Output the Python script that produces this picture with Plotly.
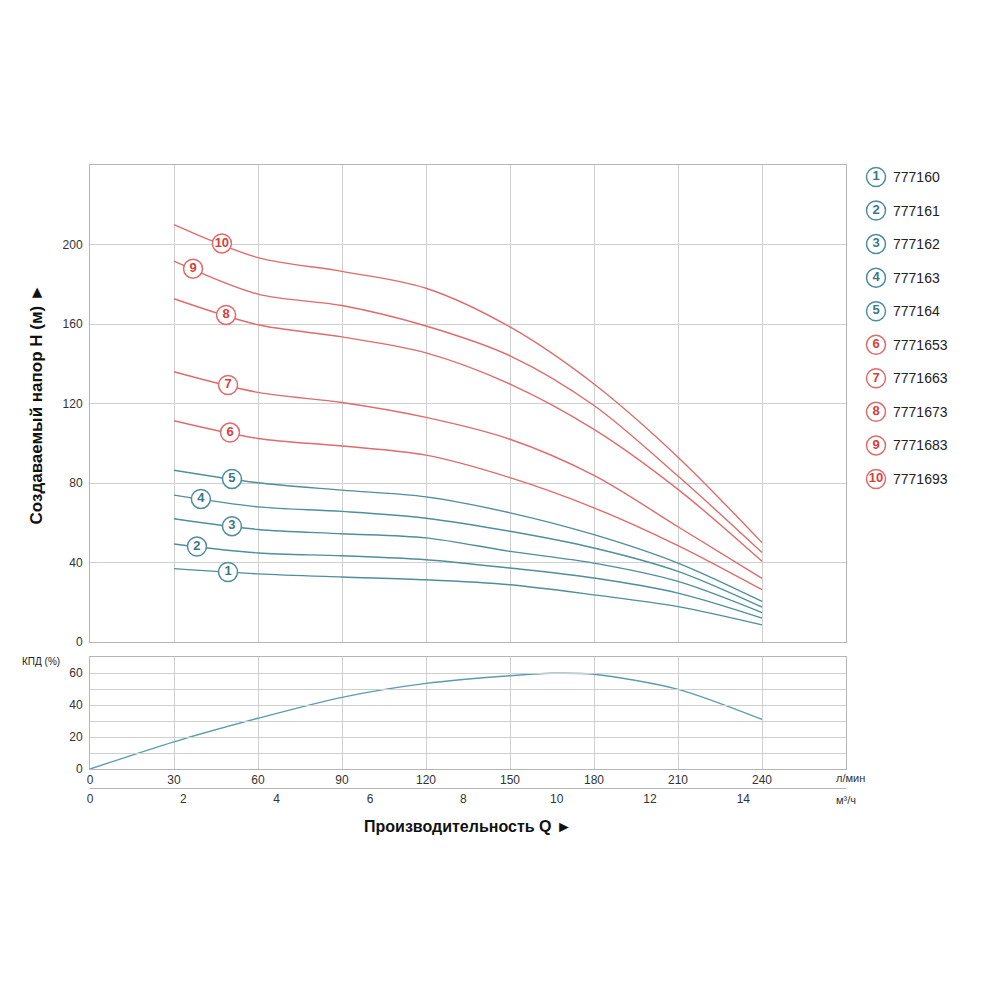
import numpy as np
import plotly.graph_objects as go

# ---------------- data ----------------
Q_LMIN = [30, 60, 90, 120, 150, 180, 210, 240]
H_CURVES = {
    1: [36.9, 34.3, 32.7, 31.3, 28.8, 23.7, 17.8, 8.6],
    2: [49.3, 44.8, 43.4, 41.4, 37.2, 32.2, 24.6, 12.0],
    3: [62.0, 56.6, 54.5, 52.4, 45.6, 39.7, 30.5, 14.8],
    4: [73.9, 68.0, 65.7, 62.3, 55.7, 47.3, 35.5, 17.5],
    5: [86.4, 80.1, 76.4, 73.0, 65.0, 54.0, 39.7, 20.4],
    6: [111.3, 102.4, 98.6, 94.0, 82.7, 67.5, 48.5, 26.3],
    7: [136.0, 125.6, 120.5, 113.0, 102.0, 83.8, 58.0, 32.0],
    8: [172.7, 159.6, 153.5, 145.5, 129.8, 107.0, 76.8, 40.6],
    9: [191.6, 175.0, 169.3, 159.0, 144.0, 119.0, 83.5, 45.0],
    10: [210.0, 193.4, 186.5, 178.0, 158.5, 129.8, 93.0, 50.0],
}
LABEL_Q = {1: 49.3, 2: 38.2, 3: 50.7, 4: 39.6, 5: 50.7, 6: 50.0,
           7: 49.3, 8: 48.6, 9: 36.8, 10: 47.1}
MODELS = ["777160", "777161", "777162", "777163", "777164",
          "7771653", "7771663", "7771673", "7771683", "7771693"]

EFF_Q = [0, 30, 60, 90, 120, 150, 165, 180, 210, 240]
EFF = [0, 17.0, 31.7, 44.8, 53.5, 58.3, 59.8, 59.2, 49.8, 31.0]

X_LMIN_TICKS = [0, 30, 60, 90, 120, 150, 180, 210, 240]
X_M3H_TICKS = [0, 2, 4, 6, 8, 10, 12, 14]
H_TICKS = [0, 40, 80, 120, 160, 200]
EFF_TICKS = [0, 10, 20, 30, 40, 50, 60]
EFF_TICKTEXT = ["0", "", "20", "", "40", "", "60"]

# ---------------- style ----------------
BLUE_LINE = "#4f8e9e"
BLUE_TXT = "#3c7786"
RED_LINE = "#e06b6b"
RED_TXT = "#d8403c"
GRID = "#cfcfcf"
FRAME = "#b5b5b5"
FONT = "Liberation Sans, Arial, sans-serif"

fig = go.Figure()

for n, hs in H_CURVES.items():
    col = BLUE_LINE if n <= 5 else RED_LINE
    fig.add_trace(go.Scatter(x=Q_LMIN, y=hs, mode="lines",
                             line=dict(color=col, width=1.4, shape="spline", smoothing=0.9),
                             xaxis="x", yaxis="y", hoverinfo="skip", showlegend=False))

# labels on curves
for n, hs in H_CURVES.items():
    lc = BLUE_LINE if n <= 5 else RED_LINE
    tc = BLUE_TXT if n <= 5 else RED_TXT
    q = LABEL_Q[n]
    h = float(np.interp(q, Q_LMIN, hs))
    fig.add_trace(go.Scatter(x=[q], y=[h], mode="markers+text", text=[str(n)],
                             textposition="middle center",
                             textfont=dict(family=FONT, size=13, color=tc, weight="bold"),
                             marker=dict(size=19, color="white", line=dict(color=lc, width=1.5)),
                             xaxis="x", yaxis="y", hoverinfo="skip", showlegend=False))

# invisible trace to realise the m3/h axis
fig.add_trace(go.Scatter(x=[0, 16.2], y=[None, None], mode="lines",
                         xaxis="x3", yaxis="y2", hoverinfo="skip", showlegend=False))
# efficiency
fig.add_trace(go.Scatter(x=EFF_Q, y=EFF, mode="lines",
                         line=dict(color="#5a9db0", width=1.4, shape="spline", smoothing=0.8),
                         xaxis="x2", yaxis="y2", hoverinfo="skip", showlegend=False))

# legend (custom)
idx = list(range(10))
lcols = [BLUE_LINE if i < 5 else RED_LINE for i in idx]
tcols = [BLUE_TXT if i < 5 else RED_TXT for i in idx]
fig.add_trace(go.Scatter(x=[16] * 10, y=idx, mode="markers+text",
                         text=[str(i + 1) for i in idx], textposition="middle center",
                         textfont=dict(family=FONT, size=13, color=tcols, weight="bold"),
                         marker=dict(size=19, color="white", line=dict(color=lcols, width=1.5)),
                         xaxis="x4", yaxis="y4", hoverinfo="skip", showlegend=False))
for i, m in enumerate(MODELS):
    fig.add_annotation(x=31, y=i, xref="x4", yref="y4", text=m, showarrow=False,
                       xanchor="left", yanchor="middle",
                       font=dict(family=FONT, size=14, color="#222222"))

XD = [0.09, 0.846]
axcommon = dict(showline=True, linecolor=FRAME, linewidth=1, mirror=True,
                gridcolor=GRID, gridwidth=1, zeroline=False, ticks="", automargin=False,
                tickfont=dict(family=FONT, size=12, color="#333333"))

fig.update_layout(
    width=1000, height=1000,
    margin=dict(l=0, r=0, t=0, b=0, autoexpand=False),
    paper_bgcolor="white", plot_bgcolor="rgba(0,0,0,0)",
    showlegend=False,
    xaxis=dict(domain=XD, range=[0, 270], tickvals=X_LMIN_TICKS[1:], showticklabels=False,
               anchor="y", **axcommon),
    yaxis=dict(domain=[0.358, 0.835], range=[0, 240], tickvals=H_TICKS, anchor="x",
               ticklabelstandoff=4, **axcommon),
    xaxis2=dict(domain=XD, range=[0, 270], tickvals=X_LMIN_TICKS, anchor="y2", **axcommon),
    yaxis2=dict(domain=[0.231, 0.343], range=[0, 70], tickvals=EFF_TICKS, ticktext=EFF_TICKTEXT,
                anchor="x2", ticklabelstandoff=4, **axcommon),
    xaxis3=dict(domain=XD, range=[0, 16.2], tickvals=X_M3H_TICKS, anchor="free", position=0.212,
                showline=True, linecolor=FRAME, showgrid=False, zeroline=False, ticks="",
                automargin=False,
                tickfont=dict(family=FONT, size=12, color="#333333")),
    xaxis4=dict(domain=[0.86, 0.99], range=[0, 130], visible=False, anchor="y4"),
    yaxis4=dict(domain=[0.5, 0.84], range=[9.627, -0.507], visible=False, anchor="x4"),
)

# titles / unit annotations
fig.add_annotation(x=0.024, y=0.595, xref="paper", yref="paper", text="Создаваемый напор H (м) ►",
                   textangle=-90, showarrow=False,
                   font=dict(family=FONT, size=17, color="#111111", weight="bold"))
fig.add_annotation(x=0.468, y=0.163, xref="paper", yref="paper", text="Производительность Q ►",
                   showarrow=False, font=dict(family=FONT, size=16, color="#111111", weight="bold"))
fig.add_annotation(x=0.020, y=0.338, xref="paper", yref="paper", text="КПД (%)", xanchor="left",
                   showarrow=False, font=dict(family=FONT, size=10, color="#222222"))
fig.add_annotation(x=0.834, y=0.214, xref="paper", yref="paper", text="л/мин", xanchor="left",
                   showarrow=False, font=dict(family=FONT, size=11, color="#333333"))
fig.add_annotation(x=0.834, y=0.192, xref="paper", yref="paper", text="м³/ч", xanchor="left",
                   showarrow=False, font=dict(family=FONT, size=11, color="#333333"))

fig.write_html("out.html")
